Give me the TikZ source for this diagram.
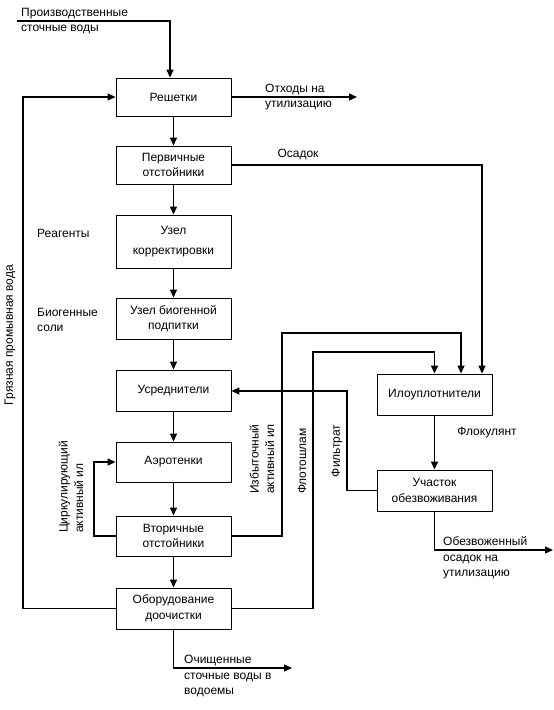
\documentclass[tikz,border=0pt]{standalone}
\usepackage{fontspec}
\setmainfont{Liberation Sans}
\usetikzlibrary{arrows.meta}
\begin{document}
\begin{tikzpicture}[x=1pt,y=-1pt,
  every node/.style={font=\fontsize{12}{15.5}\selectfont, inner sep=0pt},
  box/.style={draw, line width=0.9pt, minimum width=115pt, minimum height=40pt, align=center},
  lbl/.style={align=left},
  conn/.style={line width=1.3pt},
  arr/.style={conn, -{Triangle[length=8pt,width=7pt]}}]
\useasboundingbox (0,0) rectangle (554,710);
% boxes
\node[box, minimum height=38pt] (resh) at (173.5,97) {Решетки};
\node[box, minimum height=38pt] (perv) at (173.5,165) {Первичные\\отстойники};
\node[box, minimum height=53pt] (korr) at (173.5,241.5) {Узел\\[5pt]корректировки};
\node[box, minimum height=41pt] (biog) at (173.5,318.5) {Узел биогенной\\подпитки};
\node[box, minimum height=41pt] (usr) at (173.5,390.5) {Усреднители};
\node[box, minimum height=40pt] (aero) at (173.5,462) {Аэротенки};
\node[box, minimum height=40pt] (vtor) at (173.5,536) {Вторичные\\отстойники};
\node[box, minimum height=41pt] (doo) at (173.5,608.5) {Оборудование\\доочистки};
\node[box, minimum height=41pt] (ilo) at (434.5,394.5) {Илоуплотнители};
\node[box, minimum height=41pt] (uch) at (434.5,490.5) {Участок\\обезвоживания};
% coordinates
\coordinate (inS) at (17,21);
\coordinate (othE) at (357,97);
\coordinate (osR) at (482,165);
\coordinate (recB) at (23,608.5);
\coordinate (recT) at (23,97);
\coordinate (cirB) at (94,536);
\coordinate (cirT) at (94,462);
\coordinate (izbB) at (282,536);
\coordinate (izbT) at (282,333);
\coordinate (flB) at (313,608.5);
\coordinate (flT) at (313,352);
\coordinate (fiB) at (347,490.5);
\coordinate (fiT) at (347,391);
\coordinate (ochE) at (292,668);
\coordinate (obE) at (553,550);
% main chain
\draw[arr] (inS) -| ([xshift=-3.5pt]resh.north);
\draw[arr] (resh) -- (perv);
\draw[arr] (perv) -- (korr);
\draw[arr] (korr) -- (biog);
\draw[arr] (biog) -- (usr);
\draw[arr] (usr) -- (aero);
\draw[arr] (aero) -- (vtor);
\draw[arr] (vtor) -- (doo);
\draw[arr] (resh.east) -- (othE);
\draw[arr] (perv.east) -- (osR) -- (osR |- ilo.north);
\draw[arr] (doo.west) -- (recB) -- (recT) -- (resh.west);
\draw[arr] (vtor.west) -- (cirB) -- (cirT) -- (aero.west);
\draw[arr] (vtor.east) -- (izbB) -- (izbT) -| ([xshift=26.5pt]ilo.north);
\draw[arr] (doo.east) -- (flB) -- (flT) -| (ilo.north);
\draw[arr] (uch.west) -- (fiB) -- (fiT) -- (usr.east |- fiT);
\draw[arr] (ilo) -- (uch);
\draw[arr] (doo.south) |- (ochE);
\draw[arr] (uch.south) |- (obE);
% labels
\node[lbl, anchor=west] (lin) at (21,21) {Производственные\\сточные воды};
\node[lbl, anchor=west] (loth) at (265,97) {Отходы на\\утилизацию};
\node (losad) at (298,155) {Осадок};
\node[anchor=west] (lreag) at (37,233) {Реагенты};
\node[lbl, anchor=west] (lbio) at (37,320) {Биогенные\\соли};
\node[rotate=90] (lrec) at (10,335) {Грязная промывная вода};
\node[lbl, rotate=90] (lcir) at (71,487) {Циркулирующий\\активный ил};
\node[lbl, rotate=90] (lizb) at (262,459) {Избыточный\\активный ил};
\node[rotate=90] (lflot) at (302,461) {Флотошлам};
\node[rotate=90] (lfil) at (337,451) {Фильтрат};
\node (lflok) at (487,433) {Флокулянт};
\node[lbl, anchor=west] (lobez) at (443,558) {Обезвоженный\\осадок на\\утилизацию};
\node[lbl, anchor=west] (loch) at (184,676) {Очищенные\\сточные воды в\\водоемы};
\end{tikzpicture}
\end{document}
